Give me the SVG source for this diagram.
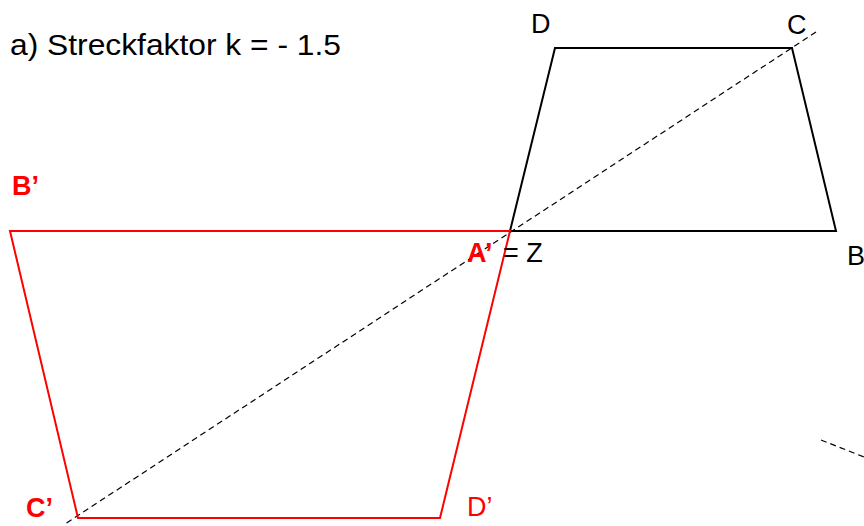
<svg xmlns="http://www.w3.org/2000/svg" width="864" height="526" viewBox="0 0 864 526">
<style>
text{font-family:"Liberation Sans",Arial,sans-serif;}
.lbl{font-size:27px;fill:#000;}
.red{font-size:27px;fill:#ff0000;}
.b{font-weight:bold;}
.shape{fill:none;stroke-width:2;stroke-linejoin:miter;}
.dash{fill:none;stroke:#000;stroke-width:1.2;stroke-dasharray:6,4;}
</style>
<rect width="864" height="526" fill="#fff"/>
<text x="10" y="55" font-size="29" textLength="331" lengthAdjust="spacingAndGlyphs">a) Streckfaktor k = - 1.5</text>
<g id="connectors">
<line class="dash" x1="816" y1="32" x2="65" y2="524"/>
<line class="dash" x1="821" y1="440" x2="864" y2="457"/>
</g>
<g id="original">
<polygon class="shape" stroke="#000" points="510,231 836,231 792,48 555,48"/>
</g>
<g id="image">
<polygon class="shape" stroke="#ff0000" points="510,231 10,231 78,518 440,518"/>
</g>
<g id="labels">
<text class="lbl" x="531" y="33">D</text>
<text class="lbl" x="787" y="34">C</text>
<text class="lbl" x="847" y="265">B</text>
<text class="red b" x="467" y="262">A’</text>
<text class="lbl" x="503" y="262">= Z</text>
<text class="red b" x="12" y="195">B’</text>
<text class="red b" x="26" y="517">C’</text>
<text class="red" x="467" y="516">D’</text>
</g>
</svg>
